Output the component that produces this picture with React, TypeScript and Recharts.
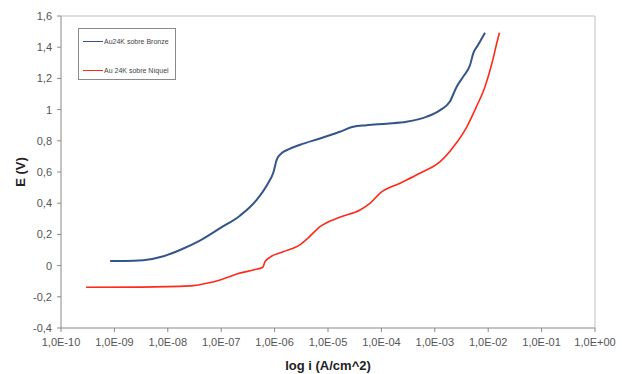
import React from "react";
import {
  LineChart,
  Line,
  XAxis,
  YAxis,
  ReferenceLine,
  Label,
} from "recharts";

// log10 of current density (A/cm^2) and potential E (V)
const bronzeLogI = [
  -9.08, -8.8, -8.46, -8.08, -7.77, -7.4, -7.02, -6.65, -6.34, -6.12, -6.02,
  -5.96, -5.87, -5.74, -5.52, -5.15, -4.78, -4.53, -4.28, -3.9, -3.53, -3.15,
  -2.9, -2.72, -2.59, -2.47, -2.34, -2.28, -2.19, -2.06,
];
const bronzeE = [
  0.03, 0.03, 0.035, 0.06, 0.1, 0.16, 0.24, 0.32, 0.42, 0.53, 0.6, 0.68, 0.72,
  0.745, 0.775, 0.815, 0.858, 0.89, 0.9, 0.91, 0.922, 0.955, 0.997, 1.05, 1.147,
  1.21, 1.286, 1.36, 1.414, 1.493,
];

const niquelLogI = [
  -9.53, -8.5, -7.58, -7.27, -7.02, -6.71, -6.4, -6.22, -6.18, -6.09, -5.84,
  -5.52, -5.37, -5.15, -4.78, -4.4, -4.21, -4.03, -3.65, -3.28, -2.9, -2.65,
  -2.4, -2.22, -2.06, -1.93, -1.84, -1.79,
];
const niquelE = [
  -0.139, -0.138, -0.13, -0.113, -0.092, -0.054, -0.028, -0.011, 0.025, 0.053,
  0.089, 0.135, 0.178, 0.25, 0.31, 0.356, 0.4, 0.463, 0.528, 0.592, 0.666,
  0.762, 0.89, 1.019, 1.147, 1.297, 1.425, 1.493,
];

const xTicks = [-10, -9, -8, -7, -6, -5, -4, -3, -2, -1, 0];
const yTicks = [-0.4, -0.2, 0, 0.2, 0.4, 0.6, 0.8, 1, 1.2, 1.4, 1.6];

const seriesNames = ["Au24K sobre Bronze", "Au 24K sobre Níquel"];
const seriesColors = ["#34558b", "#ff2a1a"];

const bronzeData = bronzeLogI.map((x, i) => ({ x, e: bronzeE[i] }));
const niquelData = niquelLogI.map((x, i) => ({ x, e: niquelE[i] }));

const fmtX = (v: number) =>
  v === 0 ? "1,0E+00" : `1,0E-${String(Math.abs(v)).padStart(2, "0")}`;
const fmtY = (v: number) => String(Number(v.toFixed(1))).replace(".", ",");

const font = "Liberation Sans, Arial, sans-serif";
const tickStyle = { fontSize: 11, fill: "#555", fontFamily: font };

function LegendBox() {
  return (
    <div
      style={{
        position: "absolute",
        left: 78,
        top: 28,
        width: 98,
        height: 52,
        border: "1px solid #8a8a8a",
        background: "#fff",
        fontFamily: font,
        fontSize: 7,
        color: "#444",
        boxSizing: "border-box",
        paddingTop: 7,
      }}
    >
      {seriesNames.map((name, i) => (
        <div
          key={name}
          style={{ display: "flex", alignItems: "center", height: 10, marginBottom: i === 0 ? 19 : 0 }}
        >
          <span
            style={{
              display: "inline-block",
              width: 20,
              height: 0,
              borderTop: `1.5px solid ${seriesColors[i]}`,
              marginLeft: 4,
              marginRight: 1,
            }}
          />
          <span style={{ whiteSpace: "nowrap" }}>{name}</span>
        </div>
      ))}
    </div>
  );
}

export default function App() {
  document.body.style.margin = "0";
  return (
    <div style={{ width: 622, height: 374, position: "relative", background: "#fff" }}>
      <LineChart width={622} height={374} margin={{ top: 16, right: 27, left: 0, bottom: 0 }}>
        <XAxis
          type="number"
          dataKey="x"
          domain={[-10, 0]}
          ticks={xTicks}
          tickFormatter={fmtX}
          height={46}
          tick={tickStyle}
          tickSize={4}
          tickMargin={6}
          stroke="#888"
          allowDuplicatedCategory={false}
        >
          <Label
            content={(props: any) => {
              const vb = props.viewBox || {};
              return (
                <text
                  x={vb.x + vb.width / 2}
                  y={vb.y + 42}
                  textAnchor="middle"
                  fontSize={13}
                  fontWeight="bold"
                  fontFamily={font}
                  fill="#222"
                >
                  log i (A/cm^2)
                </text>
              );
            }}
          />
        </XAxis>
        <YAxis
          type="number"
          dataKey="e"
          domain={[-0.4, 1.6]}
          ticks={yTicks}
          tickFormatter={fmtY}
          width={61}
          tick={tickStyle}
          tickSize={4}
          tickMargin={5}
          stroke="#888"
        >
          <Label
            content={(props: any) => {
              const vb = props.viewBox || {};
              const cx = vb.x + 20;
              const cy = vb.y + vb.height / 2;
              return (
                <text
                  x={cx}
                  y={cy}
                  transform={`rotate(-90 ${cx} ${cy})`}
                  textAnchor="middle"
                  dominantBaseline="central"
                  fontSize={13}
                  fontWeight="bold"
                  fontFamily={font}
                  fill="#222"
                >
                  E (V)
                </text>
              );
            }}
          />
        </YAxis>
        <ReferenceLine y={1.6} stroke="#d4d4d4" strokeWidth={1.5} />
        <ReferenceLine x={0} stroke="#d4d4d4" strokeWidth={1.5} />
        <Line
          data={bronzeData}
          dataKey="e"
          name={seriesNames[0]}
          type="monotone"
          stroke={seriesColors[0]}
          strokeWidth={2}
          dot={false}
          isAnimationActive={false}
        />
        <Line
          data={niquelData}
          dataKey="e"
          name={seriesNames[1]}
          type="monotone"
          stroke={seriesColors[1]}
          strokeWidth={1.6}
          dot={false}
          isAnimationActive={false}
        />
      </LineChart>
      <LegendBox />
    </div>
  );
}
